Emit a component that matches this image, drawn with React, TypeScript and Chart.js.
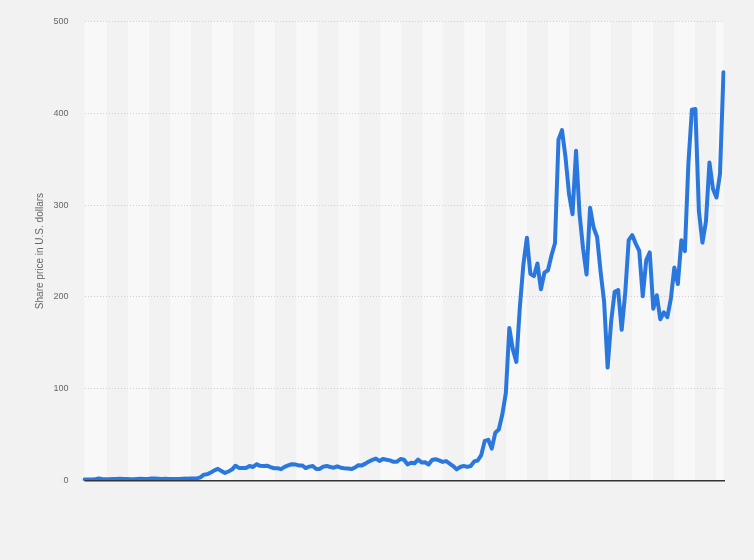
import React, { useEffect, useRef } from "react";
import { Chart, registerables } from "chart.js";

Chart.register(...registerables);

// Monthly closing share price, Jul 2010 – Sep 2025 (U.S. dollars, split-adjusted)
const prices2010: number[] = [1.33, 1.3, 1.36, 1.46, 2.36, 1.78];
const prices2011: number[] = [1.61, 1.59, 1.85, 1.81, 2.0, 1.94, 1.87, 1.65, 1.63, 1.94, 2.18, 1.9];
const prices2012: number[] = [1.94, 2.27, 2.48, 2.21, 1.97, 2.09, 1.81, 1.9, 1.95, 1.88, 2.14, 2.26];
const prices2013: number[] = [2.5, 2.32, 2.53, 3.6, 6.52, 7.17, 8.95, 11.27, 12.89, 10.66, 8.49, 10.03];
const prices2014: number[] = [12.09, 16.32, 13.9, 13.86, 13.85, 16.0, 14.89, 17.98, 16.18, 16.11, 16.3, 14.83];
const prices2015: number[] = [13.57, 13.56, 12.58, 15.07, 16.72, 17.88, 17.74, 16.6, 16.56, 13.8, 15.35, 16.0];
const prices2016: number[] = [12.75, 12.8, 15.32, 16.05, 14.88, 14.15, 15.65, 14.13, 13.6, 13.18, 12.63, 14.25];
const prices2017: number[] = [16.8, 16.67, 18.55, 20.94, 22.73, 24.11, 21.56, 23.73, 22.74, 22.1, 20.59, 20.76];
const prices2018: number[] = [23.62, 22.87, 17.74, 19.59, 18.98, 22.86, 19.88, 20.11, 17.65, 22.49, 23.37, 22.19];
const prices2019: number[] = [20.47, 21.33, 18.66, 15.91, 12.34, 14.9, 16.11, 15.04, 16.06, 20.99, 22.0, 27.89];
const prices2020: number[] = [43.37, 44.53, 34.93, 52.13, 55.67, 71.99, 95.38, 166.11, 143.0, 129.35, 189.2, 235.22];
const prices2021: number[] = [264.51, 225.17, 222.64, 236.48, 208.41, 226.57, 229.07, 245.24, 258.49, 371.33, 381.59, 352.26];
const prices2022: number[] = [312.24, 290.14, 359.2, 290.25, 252.75, 224.47, 297.15, 275.61, 265.25, 227.54, 194.7, 123.18];
const prices2023: number[] = [173.22, 205.71, 207.46, 164.31, 203.93, 261.77, 267.43, 258.08, 250.22, 200.84, 240.08, 248.48];
const prices2024: number[] = [187.29, 201.88, 175.79, 183.28, 178.08, 197.88, 232.07, 214.11, 261.63, 249.85, 345.16, 403.84];
const prices2025: number[] = [404.6, 292.98, 259.16, 282.16, 346.46, 317.66, 308.27, 333.87, 444.72];

const years: number[] = [2010, 2011, 2012, 2013, 2014, 2015, 2016, 2017, 2018, 2019, 2020, 2021, 2022, 2023, 2024, 2025];
const yearlySeries: number[][] = [
  prices2010, prices2011, prices2012, prices2013, prices2014, prices2015, prices2016, prices2017,
  prices2018, prices2019, prices2020, prices2021, prices2022, prices2023, prices2024, prices2025,
];
const monthNames: string[] = ["Jan", "Feb", "Mar", "Apr", "May", "Jun", "Jul", "Aug", "Sep", "Oct", "Nov", "Dec"];

const yTicks: number[] = [0, 100, 200, 300, 400, 500];
const yTitle = "Share price in U.S. dollars";

const categories: string[] = [];
const values: number[] = [];
yearlySeries.forEach((arr, yi) => {
  const startMonth = yi === 0 ? 6 : 0;
  arr.forEach((v, mi) => {
    categories.push(`${monthNames[startMonth + mi]} '${String(years[yi]).slice(2)}`);
    values.push(v);
  });
});

const bandsPlugin = {
  id: "bands",
  beforeDraw(chart: any) {
    const { ctx, chartArea, scales } = chart;
    ctx.save();
    ctx.fillStyle = "#f2f2f2";
    ctx.fillRect(0, 0, chart.width, chart.height);
    const x = scales.x;
    const edges: number[] = [chartArea.left];
    for (let idx = 6.49; idx < categories.length - 1; idx += 5.98) {
      edges.push(x.getPixelForValue(idx));
    }
    edges.push(chartArea.right);
    for (let i = 0; i < edges.length - 1; i++) {
      ctx.fillStyle = i % 2 === 0 ? "#f8f8f8" : "#f2f2f2";
      ctx.fillRect(edges[i], chartArea.top, edges[i + 1] - edges[i], chartArea.bottom - chartArea.top);
    }
    ctx.restore();
  },
  afterDatasetsDraw(chart: any) {
    const { ctx, chartArea, scales } = chart;
    const y0 = scales.y.getPixelForValue(0);
    ctx.save();
    ctx.strokeStyle = "#333333";
    ctx.lineWidth = 1.5;
    ctx.beginPath();
    ctx.moveTo(chartArea.left, y0);
    ctx.lineTo(chartArea.right + 1.5, y0);
    ctx.stroke();
    ctx.restore();
  },
};

export default function App() {
  const canvasRef = useRef<HTMLCanvasElement | null>(null);

  useEffect(() => {
    if (!canvasRef.current) return;
    const chart = new Chart(canvasRef.current, {
      type: "line",
      data: {
        labels: categories,
        datasets: [
          {
            data: values,
            borderColor: "#2a78de",
            borderWidth: 4,
            pointRadius: 0,
            pointHoverRadius: 0,
            tension: 0,
            fill: false,
            borderJoinStyle: "round",
            borderCapStyle: "round",
          },
        ],
      },
      options: {
        responsive: false,
        animation: false,
        devicePixelRatio: 1,
        layout: { padding: { left: 0, top: 19.3, right: 30.5, bottom: 79.3 } },
        plugins: {
          legend: { display: false },
          tooltip: { enabled: false },
        },
        scales: {
          x: {
            display: false,
            offset: false,
          },
          y: {
            min: 0,
            max: 500,
            afterBuildTicks: (scale: any) => {
              scale.ticks = yTicks.map((v) => ({ value: v }));
            },
            afterFit: (scale: any) => {
              scale.width = 84.5;
            },
            ticks: {
              padding: 16,
              color: "#666666",
              font: { family: "'Liberation Sans', Arial, sans-serif", size: 9 },
            },
            grid: {
              color: "#cfcfcf",
              lineWidth: 1,
              drawTicks: false,
            },
            border: { display: false, dash: [1, 2] },
            title: {
              display: true,
              text: yTitle,
              color: "#666666",
              padding: { top: 34, bottom: 0 },
              font: { family: "'Liberation Sans', Arial, sans-serif", size: 10 },
            },
          },
        },
      },
      plugins: [bandsPlugin],
    });
    return () => chart.destroy();
  }, []);

  return (
    <div style={{ position: "absolute", left: 0, top: 0, width: 754, height: 560 }}>
      <canvas ref={canvasRef} width={754} height={560} style={{ width: 754, height: 560, display: "block" }} />
    </div>
  );
}
